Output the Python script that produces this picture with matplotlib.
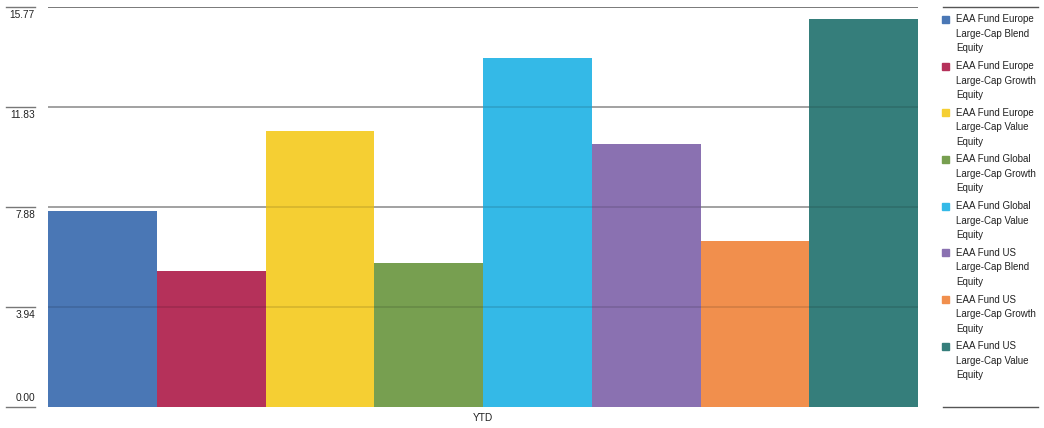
import matplotlib
matplotlib.use('Agg')
import matplotlib.pyplot as plt
from matplotlib.patches import Rectangle

plt.rcParams['font.family'] = ['Liberation Sans Narrow', 'Liberation Sans', 'DejaVu Sans']

funds = [
    "EAA Fund Europe\nLarge-Cap Blend\nEquity",
    "EAA Fund Europe\nLarge-Cap Growth\nEquity",
    "EAA Fund Europe\nLarge-Cap Value\nEquity",
    "EAA Fund Global\nLarge-Cap Growth\nEquity",
    "EAA Fund Global\nLarge-Cap Value\nEquity",
    "EAA Fund US\nLarge-Cap Blend\nEquity",
    "EAA Fund US\nLarge-Cap Growth\nEquity",
    "EAA Fund US\nLarge-Cap Value\nEquity",
]
ytd = [7.73, 5.36, 10.87, 5.67, 13.75, 10.36, 6.56, 15.28]
colors = ["#4a77b5", "#b5315a", "#f5cf33", "#779f50", "#34b9e7",
          "#8a71b1", "#f18f4d", "#357e7b"]
yticks = [0.00, 3.94, 7.88, 11.83, 15.77]
category = "YTD"

W, H = 1044, 428
fig = plt.figure(figsize=(W / 100, H / 100), dpi=100)
ax = fig.add_axes([48 / W, (H - 407.3) / H, 870 / W, 400.8 / H])

n = len(ytd)
ax.bar(range(n), ytd, width=1.0, color=colors, zorder=1)
ax.set_xlim(-0.5, n - 0.5)
ax.set_ylim(yticks[0], yticks[-1])
ax.axis('off')

# gridlines: grey behind, faint dark line over the bars
for i, t in enumerate(yticks[1:]):
    top = (i == len(yticks) - 2)
    ax.axhline(t, color='#6a6a6a' if top else '#a3a3a3', lw=1.1, zorder=0)
    ax.axhline(t, color='black', alpha=0.14, lw=1.1, zorder=3)

# short tick lines and labels left of the plot
tr = ax.get_yaxis_transform()
x0, x1 = (6 - 48) / 870, (35 - 48) / 870
for t in yticks:
    ax.plot([x0, x1], [t, t], color='#777777', lw=1.0, transform=tr, clip_on=False)
    if t == yticks[0]:
        ax.text(x1, t + 0.15, f"{t:.2f}", transform=tr, ha='right', va='bottom',
                fontsize=7.3, color='#222222')
    else:
        ax.text(x1, t - 0.12, f"{t:.2f}", transform=tr, ha='right', va='top',
                fontsize=7.3, color='#222222')

ax.text(0.5, -0.015, category, transform=ax.transAxes, ha='center', va='top',
        fontsize=7.3, color='#222222')

# legend, drawn by hand
fig.add_artist(plt.Line2D([943 / W, 1038 / W], [1 - 7 / H, 1 - 7 / H],
                          color='#555555', lw=1.0))
fig.add_artist(plt.Line2D([943 / W, 1038 / W], [1 - 407 / H, 1 - 407 / H],
                          color='#555555', lw=1.0))
for i, (lab, c) in enumerate(zip(funds, colors)):
    yc = 19.3 + i * 46.7
    fig.add_artist(Rectangle((942 / W, 1 - (yc + 3.5) / H), 7 / W, 7 / H,
                             color=c, transform=fig.transFigure))
    for j, line in enumerate(lab.split("\n")):
        fig.text(956 / W, 1 - (yc + j * 14.5) / H, line, ha='left', va='center',
                 fontsize=7, color='#222222')

fig.savefig('out.png', dpi=100)
